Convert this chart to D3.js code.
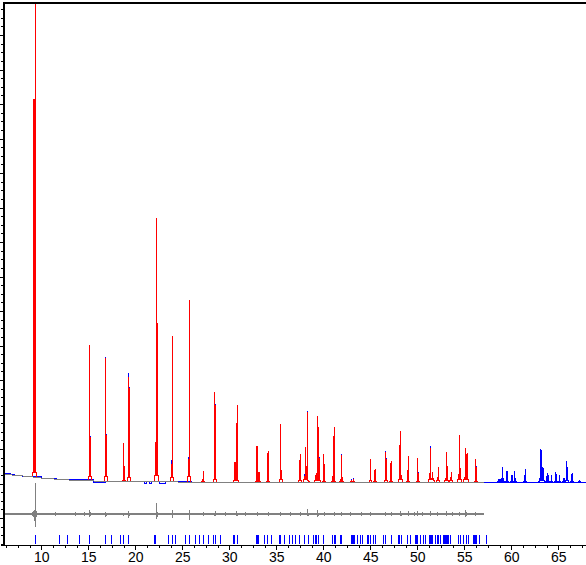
<!DOCTYPE html>
<html>
<head>
<meta charset="utf-8">
<script src="https://cdn.jsdelivr.net/npm/d3@7"></script>
<style>
  html, body { margin: 0; padding: 0; background: #fff; overflow: hidden; }
  svg { display: block; }
  path, line { shape-rendering: crispEdges; }
</style>
</head>
<body>
<div id="chart"></div>
<script>
const peakTheta = [
  9.17, 9.28, 9.38, 15.13, 15.23, 16.83, 16.94, 18.74, 18.85, 19.28, 19.38,
  22.15, 22.26, 22.36, 23.85, 23.96, 25.66, 25.77, 27.15, 27.26, 28.42, 28.53,
  30.55, 30.66, 30.77, 30.87, 32.89, 33.00, 33.11, 33.21, 34.06, 34.17, 35.45, 35.55,
  37.47, 37.57, 38.00, 38.11, 38.21, 38.32, 38.43, 39.17, 39.28, 39.38, 39.49, 39.60,
  40.02, 40.13, 40.98, 41.08, 41.19, 41.83, 41.94, 42.04, 43.00, 43.21, 45.02,
  45.45, 45.55, 46.62, 46.72, 47.15, 47.26, 48.11, 48.21, 48.32, 48.96, 49.06,
  50.02, 50.13, 51.30, 51.40, 51.51, 51.62, 51.72, 52.15, 52.26, 53.00, 53.11, 53.21,
  53.53, 53.64, 54.38, 54.49, 54.60, 55.02, 55.13, 55.23, 55.34, 56.19, 56.30
];
const calcTop = [
  11150, 11150, 13960, 4020, 1350, 3630, 1410, 1170, 510, 3100, 2760,
  1200, 7700, 4660, 560, 4280, 710, 5320, 130, 365, 2656, 2280,
  626, 626, 1766, 2280, 1090, 1090, 336, 336, 887, 945, 1728, 394,
  685, 858, 230, 1061, 510, 2068, 100, 250, 307, 1960, 1641, 733,
  858, 568, 220, 1380, 1641, 130, 829, 190, 100, 130, 713,
  394, 423, 916, 713, 606, 655, 1120, 1525, 250, 394, 800,
  742, 307, 307, 1041, 160, 336, 160, 190, 481, 160, 916, 510,
  190, 336, 278, 1409, 452, 190, 1032, 858, 887, 713, 481
];
const obsTop = [
  11150, 11150, 13960, 4020, 1380, 3660, 1440, 1170, 510, 3190, 2800,
  1200, 7700, 4660, 690, 4280, 780, 5320, 130, 365, 2656, 2310,
  626, 626, 1766, 2280, 1090, 1090, 336, 336, 887, 945, 1728, 394,
  685, 858, 280, 1061, 510, 2100, 100, 250, 307, 1960, 1641, 760,
  858, 568, 220, 1380, 1641, 130, 860, 190, 130, 170, 713,
  394, 423, 950, 740, 606, 655, 1120, 1525, 250, 394, 800,
  742, 340, 307, 1090, 160, 336, 160, 190, 481, 160, 916, 510,
  190, 336, 278, 1409, 452, 190, 1032, 858, 887, 713, 510
];
const peakFoot = [
  330, 330, 330, 200, 200, 200, 200, 100, 100, 170, 170,
  240, 240, 240, 170, 170, 200, 200, 60, 60, 120, 120,
  90, 90, 90, 90, 60, 60, 60, 60, 55, 55, 120, 120,
  90, 90, 120, 120, 120, 120, 55, 90, 90, 90, 90, 90,
  55, 55, 55, 55, 55, 55, 55, 55, 55, 55, 90,
  55, 55, 90, 90, 55, 55, 120, 120, 120, 55, 55,
  55, 55, 120, 120, 120, 120, 90, 90, 90, 90, 90, 90,
  90, 90, 120, 120, 120, 120, 120, 120, 120, 55, 55
];

// past 57 degrees there is only the observed pattern
const highTheta = [
  58.64, 58.74, 58.85, 58.96, 59.06, 59.17, 59.49, 59.60, 60.02, 60.13, 60.34, 60.45,
  61.40, 61.51, 63.00, 63.11, 63.21, 63.32, 63.43, 63.74, 63.85, 63.96, 64.28,
  64.70, 64.81, 65.13, 65.55, 65.66, 65.87, 65.98, 66.40, 66.51, 67.25
];
const highObs = [
  130, 130, 130, 160, 481, 160, 365, 365, 250, 250, 365, 160,
  250, 423, 160, 1003, 974, 481, 452, 220, 307, 250, 250,
  336, 278, 250, 160, 160, 655, 481, 278, 307, 100
];
const highFoot = [
  70, 70, 70, 70, 70, 70, 70, 70, 70, 70, 70, 70,
  70, 70, 70, 100, 100, 100, 100, 70, 70, 70, 70,
  70, 70, 70, 70, 70, 100, 100, 70, 70, 60
];

// background curve
const bgTheta = [5.98, 9.1, 9.86, 12.73, 16.24, 26.9, 57.06];
const bgValue = [270, 191, 162, 104, 67, 38, 38];

// observed noise around the background, flat tail at the end
const obsNoiseTheta = [5.98, 6.67, 7.2, 7.95, 9.97, 11.67, 13.37, 15.6, 16.8, 21.0, 21.2, 21.55, 21.75, 22.6, 23.2, 26.0, 67.95];
const obsNoiseValue = [300, 249, 220, 191, 133, 119, 104, 30, 50, 10, 45, 10, 45, 10, 60, 38, 38];

// difference curve
const diffLevel = -890;
const diffTheta = [
  9.07, 9.17, 9.28, 9.38, 9.49, 11.5, 13.6, 14.6, 15.13, 15.23, 16.83, 16.94, 18.74, 19.28, 19.38,
  22.26, 22.36, 23.96, 25.77, 27.26, 28.42, 28.53, 29.6, 30.77, 30.87, 31.7, 33.00, 34.17, 35.45,
  36.5, 37.57, 38.32, 38.43, 39.38, 39.49, 40.1, 41.19, 41.94, 42.9, 44.1, 45.02, 46.62, 47.3,
  48.21, 48.32, 49.06, 49.7, 50.02, 50.6, 51.40, 52.2, 53.11, 53.7, 54.49, 55.13, 55.23, 56.19
];
const diffHigh = [
  -824, -795, -766, 17, -795, -830, -830, -830, -766, -824, -824, -850, -850, -795, -850,
  -554, -824, -766, -766, -824, -850, -795, -830, -795, -850, -830, -824, -824, -824,
  -830, -824, -737, -850, -766, -850, -830, -824, -824, -830, -830, -824, -824, -830,
  -795, -850, -795, -830, -795, -830, -795, -830, -795, -830, -824, -766, -824, -824
];
const diffLow = [
  -940, -969, -1100, -1258, -969, -950, -950, -950, -977, -950, -969, -950, -950, -998, -950,
  -1035, -969, -998, -1056, -940, -950, -940, -950, -940, -950, -950, -940, -940, -940,
  -950, -940, -940, -950, -969, -950, -950, -940, -940, -950, -950, -940, -940, -950,
  -940, -950, -940, -950, -940, -950, -940, -950, -940, -950, -940, -969, -940, -940
];

// reflection markers
const braggTheta = [
  9.36, 11.92, 12.77, 14.05, 15.11, 16.81, 17.45, 18.4, 18.72, 19.26, 22.02, 22.2, 23.5, 23.94, 24.33,
  25.32, 25.75, 26.38, 26.85, 27.27, 27.8, 28.34, 28.48, 29.08, 30.43, 30.57, 30.89, 32.87, 33.02, 33.16,
  33.73, 34.08, 34.51, 35.32, 35.46, 35.92, 36.39, 36.74, 37.09, 37.48, 38.05, 38.41, 38.94, 39.19, 39.33,
  39.47, 40.0, 40.96, 41.17, 41.31, 41.81, 41.95, 42.95, 43.09, 43.23, 43.37, 43.65, 43.97, 44.15, 44.72,
  44.86, 44.97, 45.39, 45.53, 46.38, 46.63, 47.24, 48.05, 48.16, 48.27, 48.37, 49.01, 49.26, 49.79, 49.9,
  50.0, 50.07, 50.39, 50.68, 50.85, 51.28, 51.39, 51.49, 51.6, 51.67, 51.99, 52.17, 52.31, 52.52, 52.8,
  52.91, 53.02, 53.12, 53.23, 53.34, 53.58, 54.36, 54.65, 54.9, 55.25, 55.46, 55.96, 56.07, 56.17, 56.28,
  56.6, 57.34
];
const braggTop = -1490;
const braggBottom = -1750;

const xLabels = [10, 15, 20, 25, 30, 35, 40, 45, 50, 55, 60, 65];

const width = 586;
const height = 565;
const margin = { top: 2, bottom: 20, left: 3 };

const svg = d3.select("#chart").append("svg")
  .attr("width", width)
  .attr("height", height);

const x = d3.scaleLinear().domain([5.606, 67.95]).range([0, width]);
const y = d3.scaleLinear().domain([-1782, 13960]).range([height - margin.bottom, margin.top]);

const line = d3.line().x(d => x(d[0])).y(d => y(d[1]));
const stepLine = d3.line().x(d => x(d[0])).y(d => y(d[1])).curve(d3.curveStepAfter);
const bgAt = d3.scaleLinear().domain(bgTheta).range(bgValue).clamp(true);

// one pixel column, in degrees
const col = (x.domain()[1] - x.domain()[0]) / width;

// neighbouring reflections share a foot, so walk them in runs
function peakRuns(thetas, tops, feet) {
  const runs = [];
  let run = null;
  thetas.forEach((t, i) => {
    if (!run || t - thetas[i - 1] > col * 1.5) {
      run = [[t - col, bgAt(t - col)], [t - col, feet[i]]];
      runs.push(run);
    }
    run.push([t, feet[i]], [t, tops[i]], [t, feet[i]]);
    if (i === thetas.length - 1 || thetas[i + 1] - t > col * 1.5) {
      run.push([t + col, feet[i]], [t + col, bgAt(t + col)]);
    }
  });
  return runs;
}

function drawRuns(runs, color) {
  svg.append("g").selectAll("path")
    .data(runs)
    .join("path")
    .attr("d", line)
    .attr("fill", "none")
    .attr("stroke", color)
    .attr("stroke-width", 1);
}

// OBSERVED
svg.append("path")
  .attr("d", stepLine(obsNoiseTheta.map((t, i) => [t, obsNoiseValue[i]])))
  .attr("fill", "none")
  .attr("stroke", "#0000ff")
  .attr("stroke-width", 1);
drawRuns(peakRuns(peakTheta, obsTop, peakFoot), "#0000ff");
drawRuns(peakRuns(highTheta, highObs, highFoot), "#0000ff");

// CALCULATED
drawRuns(peakRuns(peakTheta, calcTop, peakFoot), "#ff0000");

// BACKGROUND
svg.append("path")
  .attr("d", line(bgTheta.map((t, i) => [t, bgValue[i]])))
  .attr("fill", "none")
  .attr("stroke", "#808080")
  .attr("stroke-width", 1);

// DIFFERENCE
svg.append("path")
  .attr("d", line([[bgTheta[0], diffLevel], [bgTheta[bgTheta.length - 1], diffLevel]]))
  .attr("fill", "none")
  .attr("stroke", "#808080")
  .attr("stroke-width", 2);

svg.append("g").selectAll("line")
  .data(diffTheta)
  .join("line")
  .attr("x1", d => x(d))
  .attr("x2", d => x(d))
  .attr("y1", (d, i) => y(diffHigh[i]))
  .attr("y2", (d, i) => y(diffLow[i]))
  .attr("stroke", "#808080")
  .attr("stroke-width", 1);

// BRAGG MARKERS
svg.append("g").selectAll("line")
  .data(braggTheta)
  .join("line")
  .attr("x1", d => x(d))
  .attr("x2", d => x(d))
  .attr("y1", y(braggTop))
  .attr("y2", y(braggBottom))
  .attr("stroke", "#0000ff")
  .attr("stroke-width", 1);

// DRAW AXES
const xMinor = d3.range(6.25, 68, 1.25).filter(t => !xLabels.includes(t));

const xAxisMinor = d3.axisBottom(x).tickValues(xMinor).tickSize(3).tickFormat("").tickSizeOuter(0);
const xAxis = d3.axisBottom(x).tickValues(xLabels).tickSize(5).tickPadding(2).tickSizeOuter(0);

svg.append("g")
  .attr("transform", `translate(0,${height - margin.bottom})`)
  .call(xAxisMinor);

const gx = svg.append("g")
  .attr("transform", `translate(0,${height - margin.bottom})`)
  .call(xAxis);

gx.selectAll("text")
  .style("font-family", "'Liberation Sans', sans-serif")
  .style("font-size", "14px")
  .attr("fill", "#000");

const yMinor = d3.range(-1750, 13960, 250).filter(v => v % 1000 !== 0);
const yMajor = d3.range(-1000, 13960, 1000);

svg.append("g")
  .attr("transform", `translate(${margin.left},0)`)
  .call(d3.axisLeft(y).tickValues(yMinor).tickSize(2).tickFormat("").tickSizeOuter(0));

svg.append("g")
  .attr("transform", `translate(${margin.left},0)`)
  .call(d3.axisLeft(y).tickValues(yMajor).tickSize(3).tickFormat("").tickSizeOuter(0));

svg.selectAll(".domain").attr("stroke", "#000");

// heavy frame on the left and top
svg.append("line")
  .attr("x1", margin.left + 0.5).attr("x2", margin.left + 0.5)
  .attr("y1", margin.top).attr("y2", height - margin.bottom)
  .attr("stroke", "#000").attr("stroke-width", 2);

svg.append("line")
  .attr("x1", margin.left).attr("x2", width)
  .attr("y1", margin.top + 0.5).attr("y2", margin.top + 0.5)
  .attr("stroke", "#000").attr("stroke-width", 2);
</script>
</body>
</html>
